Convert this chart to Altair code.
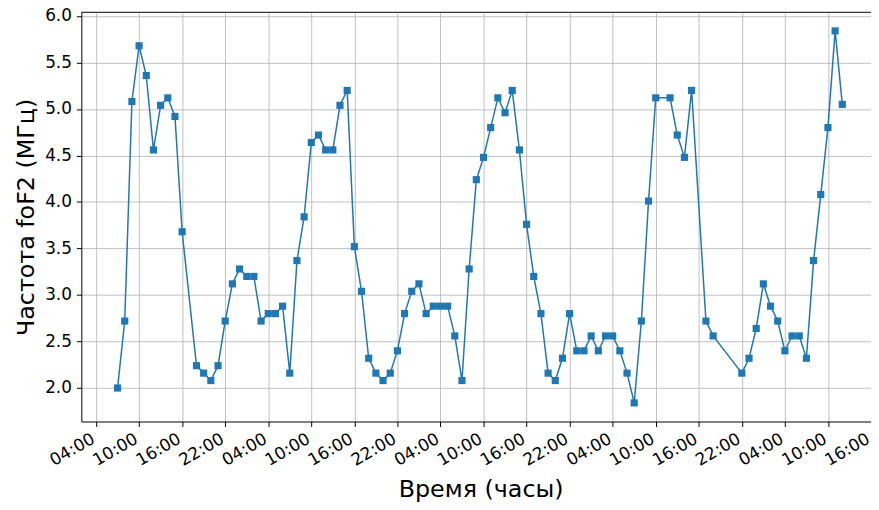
import altair as alt
import pandas as pd

# hours counted from 00:00 of the first day (data are hourly, with a few gaps)
hours = [7, 8, 9, 10, 11, 12, 13, 14, 15, 16,
         18, 19, 20, 21, 22, 23, 24, 25, 26, 27,
         28, 29, 30, 31, 32, 33, 34, 35, 36, 37,
         38, 39, 40, 41, 42, 43, 44, 45, 46, 47,
         48, 49, 50, 51, 52, 53, 54, 55, 56, 57,
         58, 59, 60, 61, 62, 63, 64, 65, 66, 67,
         68, 69, 70, 71, 72, 73, 74, 75, 76, 77,
         78, 79, 80, 81, 82, 84, 85, 86, 87, 89,
         90, 94, 95, 96, 97, 98, 99, 100, 101, 102,
         103, 104, 105, 106, 107, 108]
fof2 = [2.00, 2.72, 5.08, 5.68, 5.36, 4.56, 5.04, 5.12, 4.92, 3.68,
        2.24, 2.16, 2.08, 2.24, 2.72, 3.12, 3.28, 3.20, 3.20, 2.72,
        2.80, 2.80, 2.88, 2.16, 3.37, 3.84, 4.64, 4.72, 4.56, 4.56,
        5.04, 5.20, 3.52, 3.04, 2.32, 2.16, 2.08, 2.16, 2.40, 2.80,
        3.04, 3.12, 2.80, 2.88, 2.88, 2.88, 2.56, 2.08, 3.28, 4.24,
        4.48, 4.80, 5.12, 4.96, 5.20, 4.56, 3.76, 3.20, 2.80, 2.16,
        2.08, 2.32, 2.80, 2.40, 2.40, 2.56, 2.40, 2.56, 2.56, 2.40,
        2.16, 1.84, 2.72, 4.01, 5.12, 5.12, 4.72, 4.48, 5.20, 2.72,
        2.56, 2.16, 2.32, 2.64, 3.12, 2.88, 2.72, 2.40, 2.56, 2.56,
        2.32, 3.37, 4.08, 4.80, 5.84, 5.05]

tick_hours = list(range(4, 113, 6))
y_ticks = [2.0, 2.5, 3.0, 3.5, 4.0, 4.5, 5.0, 5.5, 6.0]

df = pd.DataFrame({"t": hours, "f": fof2})

W, H = 797, 413
FONT = "DejaVu Sans"
BLUE = "#1f77b4"

x_enc = alt.X(
    "t:Q",
    scale=alt.Scale(domain=[1.95, 112], nice=False, zero=False),
    axis=alt.Axis(
        values=tick_hours,
        labelExpr="(datum.value % 24 < 10 ? '0' : '') + (datum.value % 24) + ':00'",
        title="Время (часы)",
        labelAngle=330,
        labelAlign="right",
        labelBaseline="top",
        labelOffset=-7,
        labelPadding=4,
        labelOverlap=False,
        labelFlush=False,
        titlePadding=9,
        titleX=403,
        titleAlign="center",
    ),
)
y_enc = alt.Y(
    "f:Q",
    scale=alt.Scale(domain=[1.64, 6.04], nice=False, zero=False),
    axis=alt.Axis(
        values=y_ticks,
        format=".1f",
        title="Частота foF2 (МГц)",
        labelPadding=5,
        labelOverlap=False,
        labelFlush=False,
        titlePadding=6,
    ),
)

base = alt.Chart(df)
line = base.mark_line(color=BLUE, strokeWidth=1.5).encode(x=x_enc, y=y_enc)
pts = base.mark_point(shape="square", filled=True, size=52, color=BLUE, opacity=1).encode(
    x="t:Q", y="f:Q"
)
top = alt.Chart(alt.Data(values=[{"a": 1}])).mark_rule(color="black", strokeWidth=1).encode(
    x=alt.value(0), x2=alt.value(W), y=alt.value(0)
)

chart = (
    alt.layer(line, pts, top)
    .properties(
        width=W,
        height=H,
        autosize=alt.AutoSizeParams(type="none"),
        padding={"left": 74, "top": 2, "right": 0, "bottom": 87},
    )
    .configure_view(stroke="transparent")
    .configure_axis(
        labelFont=FONT,
        titleFont=FONT,
        labelFontSize=17,
        titleFontSize=24,
        titleFontWeight="normal",
        labelColor="black",
        titleColor="black",
        domainColor="black",
        tickColor="black",
        tickSize=5,
        gridColor="#b0b0b0",
        gridWidth=1,
        gridOpacity=0.8,
        domainWidth=1,
    )
)

chart.save("out.html", embed_options={"renderer": "svg", "actions": False})
